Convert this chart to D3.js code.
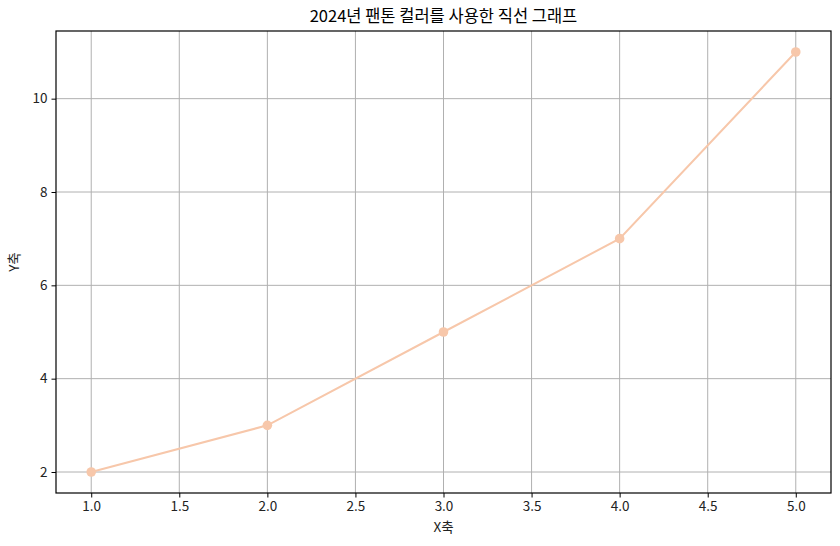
<!DOCTYPE html>
<html><head><meta charset="utf-8">
<script src="https://cdn.jsdelivr.net/npm/d3@7"></script>
<style>body{margin:0;background:#fff;} text{font-family:"Noto Sans CJK KR","Noto Sans",sans-serif;}</style>
</head><body><svg id="c" width="840" height="546"></svg>
<script>
const xValues = [1, 2, 3, 4, 5];
const yValues = [2, 3, 5, 7, 11];
const xTicks = [1.0, 1.5, 2.0, 2.5, 3.0, 3.5, 4.0, 4.5, 5.0];
const yTicks = [2, 4, 6, 8, 10];
const titleText = "2024년 팬톤 컬러를 사용한 직선 그래프";
const lineColor = "#F7C7AA";

const svg = d3.select("#c");
const m = {l: 56, r: 831, t: 31, b: 493};
const x = d3.scaleLinear().domain([0.8, 5.2]).range([m.l, m.r]);
const y = d3.scaleLinear().domain([1.55, 11.45]).range([m.b, m.t]);

// grid
svg.append("g").selectAll("line").data(xTicks).join("line")
  .attr("x1", d => x(d)).attr("x2", d => x(d)).attr("y1", m.t).attr("y2", m.b)
  .attr("stroke", "#b0b0b0").attr("stroke-width", 1);
svg.append("g").selectAll("line").data(yTicks).join("line")
  .attr("y1", d => y(d)).attr("y2", d => y(d)).attr("x1", m.l).attr("x2", m.r)
  .attr("stroke", "#b0b0b0").attr("stroke-width", 1);

// axes
const xa = svg.append("g").attr("transform", `translate(0,${m.b})`)
  .call(d3.axisBottom(x).tickValues(xTicks).tickFormat(d3.format(".1f")).tickSize(4.5).tickPadding(4));
const ya = svg.append("g").attr("transform", `translate(${m.l},0)`)
  .call(d3.axisLeft(y).tickValues(yTicks).tickFormat(d3.format("d")).tickSize(4.5).tickPadding(4));
[xa, ya].forEach(a => {
  a.select(".domain").remove();
  a.selectAll("text").attr("font-size", 13.5).attr("fill", "#222").style("font-family", '"Noto Sans CJK KR",sans-serif');
  a.selectAll("line").attr("stroke", "#000").attr("stroke-width", 1);
});

// frame
svg.append("rect").attr("x", m.l).attr("y", m.t).attr("width", m.r - m.l).attr("height", m.b - m.t)
  .attr("fill", "none").attr("stroke", "#000").attr("stroke-width", 1.2);

// line
const data = xValues.map((v, i) => [v, yValues[i]]);
svg.append("path").datum(data)
  .attr("d", d3.line().x(d => x(d[0])).y(d => y(d[1])))
  .attr("fill", "none").attr("stroke", lineColor).attr("stroke-width", 2);
svg.append("g").selectAll("circle").data(data).join("circle")
  .attr("cx", d => x(d[0])).attr("cy", d => y(d[1])).attr("r", 4.8).attr("fill", lineColor);

// labels
svg.append("text").attr("x", (m.l + m.r) / 2).attr("y", 22).attr("text-anchor", "middle")
  .attr("font-size", 16.5).attr("fill", "#000").text(titleText);
svg.append("text").attr("x", (m.l + m.r) / 2).attr("y", 532).attr("text-anchor", "middle")
  .attr("font-size", 13.5).attr("fill", "#222").text("X축");
svg.append("text").attr("transform", `translate(19,${(m.t + m.b) / 2}) rotate(-90)`).attr("text-anchor", "middle")
  .attr("font-size", 13.5).attr("fill", "#222").text("Y축");
</script></body></html>
